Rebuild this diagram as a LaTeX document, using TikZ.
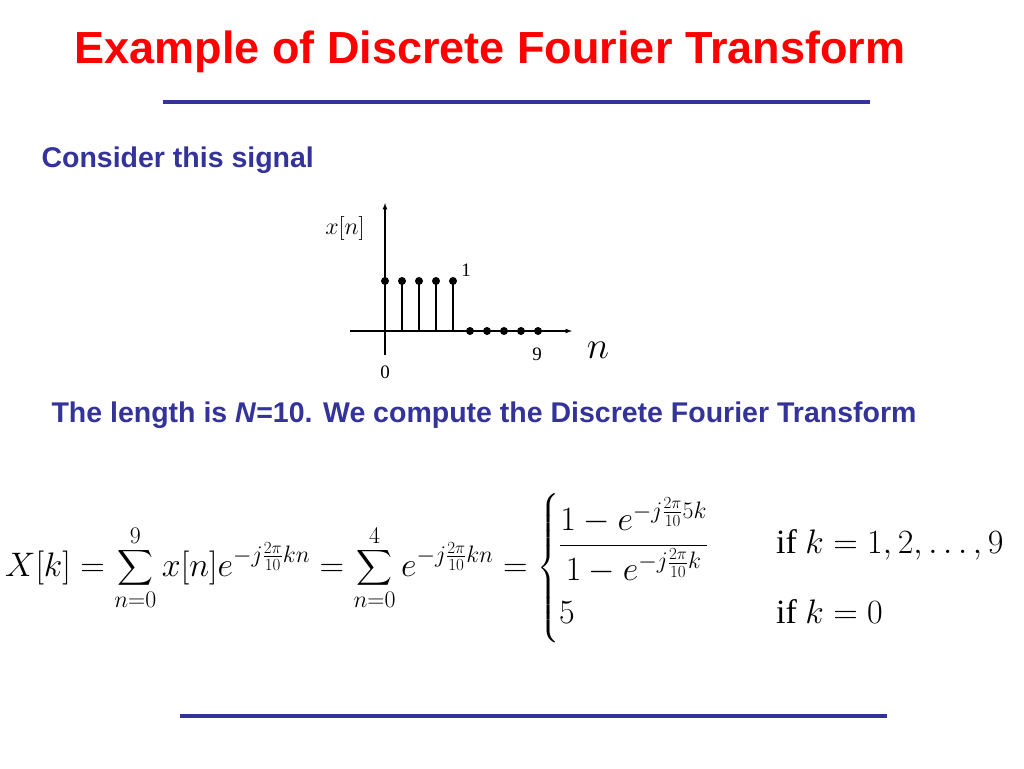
\RequirePackage{fix-cm}
\documentclass[tikz,border=0pt]{standalone}
\usepackage{amsmath}
\usepackage{fontspec}
\setmainfont{Liberation Serif}
\setsansfont{Liberation Sans}
\definecolor{slideblue}{RGB}{51,51,153}
\tikzset{
  stemline/.style={line width=1.2pt},
  stemdot/.style={circle,fill=black,inner sep=0pt,minimum size=8pt},
  rule/.style={slideblue,line width=4pt},
  heading/.style={font=\sffamily\bfseries\color{slideblue}\fontsize{28.5}{33}\selectfont,anchor=west}
}
\begin{document}
\begin{tikzpicture}[x=1pt,y=-1pt]
\useasboundingbox[fill=white] (0,0) rectangle (1024,768);

% title
\node (title) at (490,52) {\sffamily\bfseries\color{red}\fontsize{45}{52}\selectfont Example of Discrete Fourier Transform};
\draw [rule] (163,102) -- (870,102);

\node [heading] (consider) at (38,160) {Consider this signal};

% stem plot
\draw [-latex,line width=1.2pt] (350,331) -- (572,331);
\draw [-latex,line width=1.2pt] (385,355) -- (385,203);
\foreach \i in {0,...,4} {
  \draw [stemline] (385+17*\i,331) -- (385+17*\i,281);
  \node [stemdot] at (385+17*\i,281) {};
}
\foreach \i in {5,...,9}
  \node [stemdot] at (385+17*\i,331) {};
\draw [line width=2pt] (453,331) -- (538,331);
\node (xn) at (345,228) {\fontsize{24}{28}\selectfont$x[n]$};
\node (one) at (466,270) {\fontsize{19}{22}\selectfont 1};
\node (zero) at (385,372) {\fontsize{19}{22}\selectfont 0};
\node (nine) at (537,354) {\fontsize{19}{22}\selectfont 9};
\node (nlab) at (598,350) {\fontsize{38}{44}\selectfont$n$};

\node [heading] (length) at (48,415) {The length is \textit{N}=10. We compute the Discrete Fourier Transform};

% formula
\node [anchor=west,inner sep=0pt] (dft) at (5,568) {\fontsize{34}{40}\selectfont$\displaystyle
X[k]=\sum_{n=0}^{9}x[n]e^{-j\frac{2\pi}{10}kn}=\sum_{n=0}^{4}e^{-j\frac{2\pi}{10}kn}=
\begin{cases}
\dfrac{1-e^{-j\frac{2\pi}{10}5k}}{1-e^{-j\frac{2\pi}{10}k}} & \quad\text{if } k=1,2,\ldots,9\\[22pt]
5 & \quad\text{if } k=0
\end{cases}$};

\draw [rule] (180,716) -- (887,716);
\end{tikzpicture}
\end{document}
